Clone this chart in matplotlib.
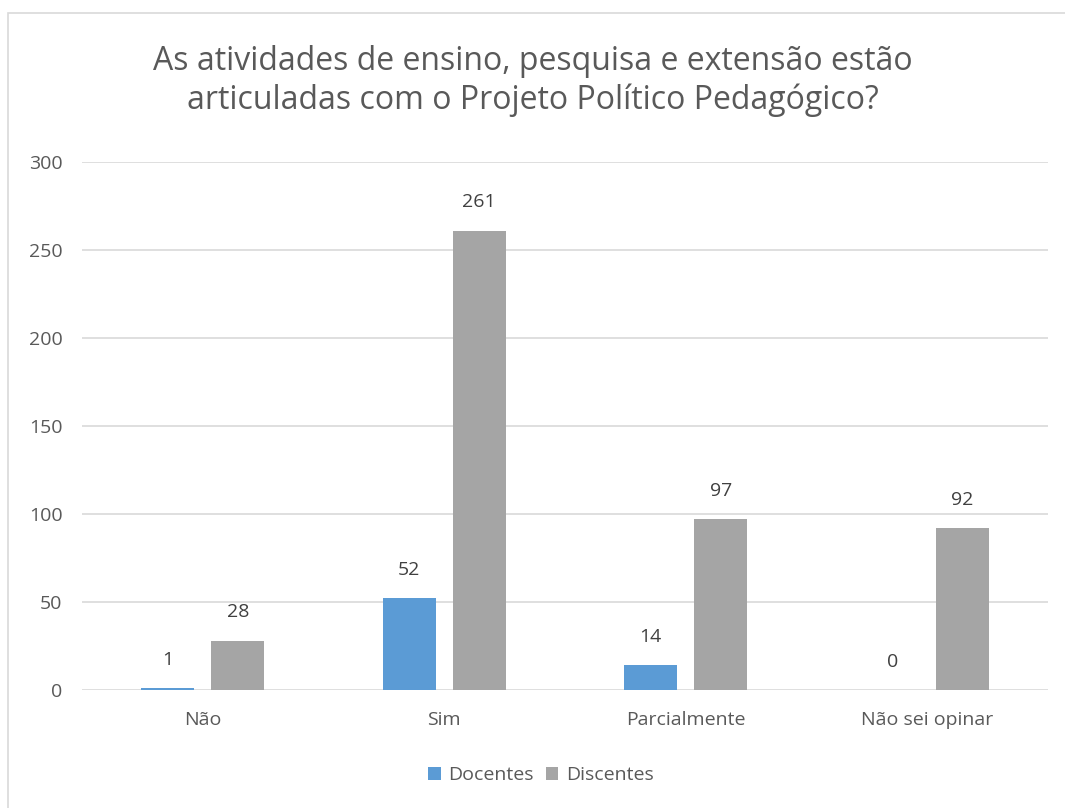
import numpy as np
import matplotlib.pyplot as plt
from matplotlib.patches import Rectangle

plt.rcParams['font.family'] = ['Open Sans', 'DejaVu Sans']

categorias = ['Não', 'Sim', 'Parcialmente', 'Não sei opinar']
docentes = [1, 52, 14, 0]
discentes = [28, 261, 97, 92]
titulo = 'As atividades de ensino, pesquisa e extensão estão\narticuladas com o Projeto Político Pedagógico?'

cor_doc = '#5B9BD5'
cor_dis = '#A5A5A5'
cinza = '#595959'

fig = plt.figure(figsize=(10.65, 8.08), dpi=100)
# moldura do grafico
fig.patches.append(Rectangle((8/1065, -0.01), 1.1, 1 - 13/808 + 0.01, transform=fig.transFigure,
                             fill=False, edgecolor='#D9D9D9', linewidth=1.2))
ax = fig.add_axes([82/1065, 1 - 690/808, 966/1065, 528/808])

x = np.arange(len(categorias))
w = 0.22
off = 0.145
b1 = ax.bar(x - off, docentes, w, color=cor_doc, label='Docentes', zorder=3)
b2 = ax.bar(x + off, discentes, w, color=cor_dis, label='Discentes', zorder=3)

for bars, vals in ((b1, docentes), (b2, discentes)):
    for r, v in zip(bars, vals):
        ax.text(r.get_x() + r.get_width() / 2, v + 11, str(v), ha='center', va='bottom',
                fontsize=14, color='#404040')

ax.set_xlim(-0.5, len(categorias) - 0.5)
ax.set_ylim(0, 300)
ax.set_yticks(range(0, 301, 50))
ax.set_xticks(x)
ax.set_xticklabels(categorias)
ax.grid(axis='y', color='#D9D9D9', linewidth=1.2, zorder=0)
for s in ax.spines.values():
    s.set_visible(False)
ax.tick_params(length=0, labelsize=14, labelcolor=cinza)
ax.tick_params(axis='x', pad=15)
ax.tick_params(axis='y', pad=14)

fig.text(0.5, 1 - 81/808, titulo, ha='center', va='center', fontsize=23, color=cinza,
         linespacing=1.2)

ax.legend(loc='center', bbox_to_anchor=(0.5 - 0.025, (690 - 775) / 528), ncol=2, frameon=False,
          fontsize=14, labelcolor=cinza, handlelength=0.65, handleheight=0.65, handletextpad=0.4,
          columnspacing=0.6)

fig.savefig('out.png', dpi=100)
